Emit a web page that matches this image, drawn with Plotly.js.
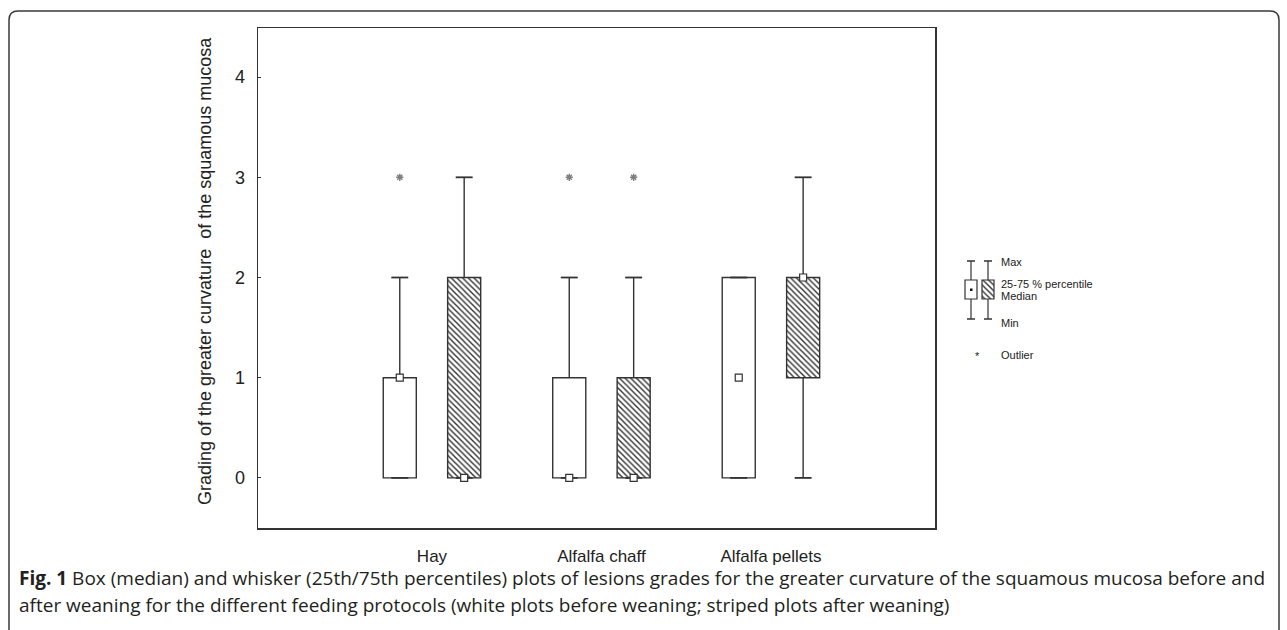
<!DOCTYPE html>
<html>
<head>
<meta charset="utf-8">
<script src="https://cdn.plot.ly/plotly-3.0.1.min.js"></script>
<style>html,body{margin:0;padding:0;background:#fff;}#chart{width:1287px;height:630px;}</style>
</head>
<body>
<div id="chart"></div>
<script>
// ---- data ----
const categories = ['Hay', 'Alfalfa chaff', 'Alfalfa pellets'];
const beforeMin    = [0, 0, 0];
const beforeQ1     = [0, 0, 0];
const beforeMedian = [1, 0, 1];
const beforeQ3     = [1, 1, 2];
const beforeMax    = [2, 2, 2];
const beforeOutlier = [3, 3, null];
const afterMin     = [0, 0, 0];
const afterQ1      = [0, 0, 1];
const afterMedian  = [0, 0, 2];
const afterQ3      = [2, 1, 2];
const afterMax     = [3, 2, 3];
const afterOutlier = [null, 3, null];
const yTicks = [0, 1, 2, 3, 4];

// ---- geometry helpers ----
const W = 1287, H = 630, ML = 258, MR = 10, MT = 28, MB = 102;
const PW = W - ML - MR, PH = H - MT - MB;
const px = x => (x - ML) / PW;
const py = y => (MT + PH - y) / PH;
const ink = '#333333';
const OFF = 0.19, BW = 0.195, CAP = 0.05;
const catX = categories.map((c, i) => i + 1);

function whiskers(xs, q1, q3, mn, mx) {
  const x = [], y = [];
  xs.forEach((v, i) => {
    x.push(v, v, null, v, v, null);
    y.push(q3[i], mx[i], null, q1[i], mn[i], null);
  });
  return {x, y};
}
function caps(xs, mn, mx) {
  const x = [], y = [];
  xs.forEach((v, i) => {
    x.push(v - CAP, v + CAP, null, v - CAP, v + CAP, null);
    y.push(mx[i], mx[i], null, mn[i], mn[i], null);
  });
  return {x, y};
}

const xb = catX.map(v => v - OFF);
const xa = catX.map(v => v + OFF);
const traces = [];

traces.push({
  type: 'bar', x: xb, y: beforeQ3.map((q, i) => q - beforeQ1[i]), base: beforeQ1,
  width: BW, marker: {color: '#ffffff', line: {color: ink, width: 1.4}},
  hoverinfo: 'skip', showlegend: false
});
traces.push({
  type: 'bar', x: xa, y: afterQ3.map((q, i) => q - afterQ1[i]), base: afterQ1,
  width: BW, marker: {color: '#ffffff', line: {color: ink, width: 1.4},
    pattern: {shape: '\\', fgcolor: ink, bgcolor: '#ffffff', size: 4, solidity: 0.35}},
  hoverinfo: 'skip', showlegend: false
});
[[xb, beforeQ1, beforeQ3, beforeMin, beforeMax], [xa, afterQ1, afterQ3, afterMin, afterMax]].forEach(g => {
  const w = whiskers(g[0], g[1], g[2], g[3], g[4]);
  traces.push({type: 'scatter', mode: 'lines', x: w.x, y: w.y, line: {color: ink, width: 1.4}, hoverinfo: 'skip', showlegend: false});
  const c = caps(g[0], g[3], g[4]);
  traces.push({type: 'scatter', mode: 'lines', x: c.x, y: c.y, line: {color: ink, width: 1.8}, hoverinfo: 'skip', showlegend: false});
});
traces.push({
  type: 'scatter', mode: 'markers', x: xb.concat(xa), y: beforeMedian.concat(afterMedian),
  marker: {symbol: 'square', size: 7, color: '#ffffff', line: {color: ink, width: 1.2}},
  hoverinfo: 'skip', showlegend: false
});
traces.push({
  type: 'scatter', mode: 'markers', x: xb.concat(xa), y: beforeOutlier.concat(afterOutlier),
  marker: {symbol: 'asterisk-open', size: 6, line: {color: ink, width: 1.4}},
  hoverinfo: 'skip', showlegend: false
});
// hatched legend icon
traces.push({
  type: 'bar', x: [0.5], y: [1], base: [0], width: 1, xaxis: 'x2', yaxis: 'y2',
  marker: {color: '#ffffff', line: {color: ink, width: 1.2},
    pattern: {shape: '\\', fgcolor: ink, bgcolor: '#ffffff', size: 4, solidity: 0.35}},
  hoverinfo: 'skip', showlegend: false
});

const font = 'Liberation Sans, Arial, sans-serif';
const shapes = [];
const L = (x0, y0, x1, y1, w) => shapes.push({type: 'line', xref: 'paper', yref: 'paper',
  x0: px(x0), y0: py(y0), x1: px(x1), y1: py(y1), line: {color: ink, width: w || 1.2}});
// legend: white icon
shapes.push({type: 'rect', xref: 'paper', yref: 'paper', x0: px(965), x1: px(977), y0: py(299), y1: py(280),
  line: {color: ink, width: 1.2}, fillcolor: '#ffffff'});
shapes.push({type: 'rect', xref: 'paper', yref: 'paper', x0: px(970), x1: px(972.5), y0: py(291), y1: py(288.5),
  line: {width: 0}, fillcolor: '#111'});
[971, 988].forEach(cx => {
  L(cx, 261, cx, 280); L(cx, 299, cx, 319);
  L(cx - 4, 261, cx + 4, 261, 1.5); L(cx - 4, 319, cx + 4, 319, 1.5);
});
// outer rounded frame
shapes.push({type: 'path', xref: 'paper', yref: 'paper',
  path: `M ${px(9)} ${py(640)} L ${px(9)} ${py(20)} Q ${px(9)} ${py(11)} ${px(18)} ${py(11)} L ${px(1270)} ${py(11)} Q ${px(1279)} ${py(11)} ${px(1279)} ${py(20)} L ${px(1279)} ${py(640)}`,
  line: {color: '#3a3a3a', width: 1.5}});

const ann = [];
const A = (x, y, text, size, opts) => ann.push(Object.assign({xref: 'paper', yref: 'paper', x: px(x), y: py(y),
  text, showarrow: false, xanchor: 'left', yanchor: 'middle', font: {family: font, size, color: '#222'}}, opts || {}));
A(999, 262, 'Max', 11);
A(999, 284, '25-75 % percentile', 11);
A(999, 296, 'Median', 11);
A(999, 323, 'Min', 11);
A(977, 356, '*', 11, {xanchor: 'center'});
A(999, 355, 'Outlier', 11);
// y title
A(205, 271, 'Grading of the greater curvature  of the squamous mucosa', 18, {xanchor: 'center', textangle: -90});
// caption
const capFont = 'Open Sans, Noto Sans, sans-serif';
ann.push({xref: 'paper', yref: 'paper', x: px(17), y: py(578), xanchor: 'left', yanchor: 'middle', showarrow: false,
  text: '<b>Fig. 1</b> Box (median) and whisker (25th/75th percentiles) plots of lesions grades for the greater curvature of the squamous mucosa before and',
  font: {family: capFont, size: 19, color: '#231f20'}});
ann.push({xref: 'paper', yref: 'paper', x: px(17), y: py(605), xanchor: 'left', yanchor: 'middle', showarrow: false,
  text: 'after weaning for the different feeding protocols (white plots before weaning; striped plots after weaning)',
  font: {family: capFont, size: 19, color: '#231f20'}});

const layout = {
  width: W, height: H,
  margin: {l: ML, r: MR, t: MT, b: MB, pad: 0},
  paper_bgcolor: '#ffffff', plot_bgcolor: '#ffffff',
  showlegend: false, barmode: 'overlay', bargap: 0,
  xaxis: {domain: [0, 677 / PW], range: [-0.0265, 3.968], tickvals: catX, ticktext: categories,
    showline: true, mirror: true, linecolor: ink, linewidth: 1.5, showgrid: false, zeroline: false,
    ticks: '', ticklabelstandoff: 12, tickfont: {family: font, size: 17, color: '#222'}, fixedrange: true},
  yaxis: {range: [-0.5, 4.49], tickvals: yTicks, ticks: 'inside', ticklen: 3, tickcolor: ink, tickwidth: 1,
    showline: true, mirror: true, linecolor: ink, linewidth: 1.5, showgrid: false, zeroline: false,
    ticklabelstandoff: 8, tickfont: {family: font, size: 18, color: '#222'}, fixedrange: true},
  xaxis2: {domain: [px(980.5), px(995.5)], anchor: 'y2', range: [-0.125, 1.125], visible: false, fixedrange: true},
  yaxis2: {domain: [py(301.4), py(277.6)], anchor: 'x2', range: [-0.125, 1.125], visible: false, fixedrange: true},
  shapes, annotations: ann
};
Plotly.newPlot('chart', traces, layout, {staticPlot: true, displayModeBar: false});
</script>
</body>
</html>
